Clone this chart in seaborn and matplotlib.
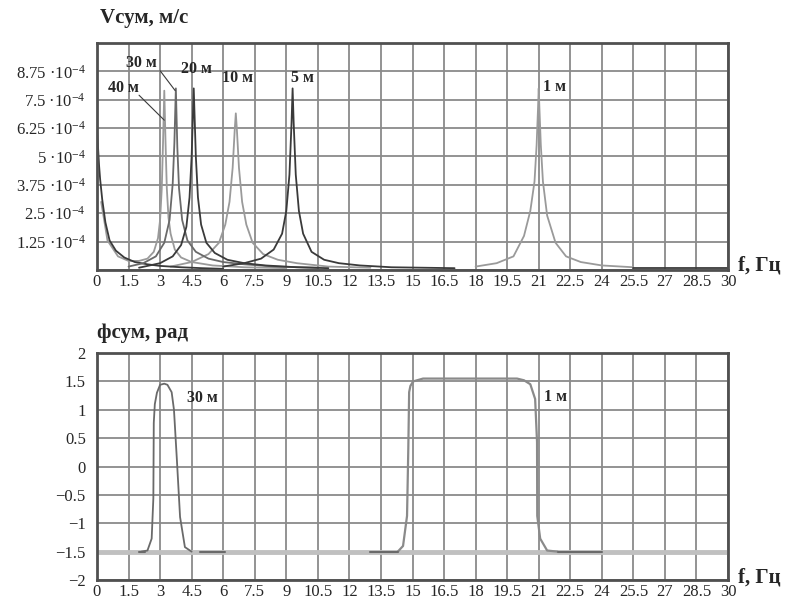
import numpy as np
import pandas as pd
import matplotlib
matplotlib.use('Agg')
from matplotlib import pyplot as plt
import seaborn as sns

# amplitude curves, V in units of 1e-4 m/s
f_low = [0, 0.05, 0.1, 0.15, 0.25, 0.4, 0.6, 0.9, 1.3, 1.8, 2.4, 3.0, 4.0, 5.0, 6.0]
v_low = [6.2, 5.4, 4.6, 4.0, 3.1, 2.1, 1.3, 0.85, 0.55, 0.35, 0.25, 0.18, 0.12, 0.08, 0.05]

f_40 = [0.2, 0.5, 1.0, 1.5, 2.0, 2.4, 2.7, 2.9, 3.0, 3.08, 3.14, 3.2, 3.26, 3.32, 3.4, 3.5, 3.7, 4.0, 4.5, 5.5, 7.0, 9.0]
v_40 = [3.0, 1.3, 0.6, 0.4, 0.4, 0.5, 0.8, 1.4, 2.2, 3.6, 5.6, 7.9, 5.6, 3.6, 2.3, 1.6, 0.9, 0.55, 0.35, 0.2, 0.12, 0.08]

f_30 = [1.5, 2.2, 2.8, 3.2, 3.45, 3.6, 3.68, 3.75, 3.82, 3.9, 4.05, 4.3, 4.7, 5.3, 6.0, 7.0, 8.5, 10.5]
v_30 = [0.15, 0.3, 0.6, 1.2, 2.2, 3.8, 5.6, 8.0, 5.4, 3.6, 2.2, 1.3, 0.8, 0.5, 0.35, 0.25, 0.15, 0.1]

f_20 = [2.0, 3.0, 3.6, 4.0, 4.25, 4.4, 4.5, 4.6, 4.7, 4.8, 4.95, 5.2, 5.6, 6.2, 7.0, 8.0, 9.5, 11.0]
v_20 = [0.1, 0.3, 0.6, 1.1, 1.9, 3.2, 5.0, 8.0, 5.0, 3.2, 2.0, 1.2, 0.75, 0.45, 0.3, 0.2, 0.12, 0.08]

f_10 = [3.5, 4.5, 5.3, 5.8, 6.1, 6.3, 6.45, 6.55, 6.6, 6.65, 6.75, 6.9, 7.1, 7.4, 7.9, 8.6, 9.5, 11.0, 13.0]
v_10 = [0.15, 0.35, 0.7, 1.2, 2.0, 3.0, 4.5, 6.2, 6.9, 6.2, 4.5, 3.0, 2.0, 1.2, 0.7, 0.45, 0.3, 0.15, 0.1]

f_5 = [6.0, 7.0, 7.8, 8.4, 8.8, 9.0, 9.15, 9.25, 9.3, 9.35, 9.45, 9.6, 9.8, 10.2, 10.8, 11.5, 12.5, 14.0, 17.0]
v_5 = [0.15, 0.3, 0.5, 0.9, 1.6, 2.6, 4.2, 6.5, 8.0, 6.5, 4.2, 2.6, 1.6, 0.8, 0.45, 0.3, 0.2, 0.12, 0.08]

f_1 = [18.0, 19.0, 19.8, 20.3, 20.6, 20.8, 20.9, 20.97, 21.0, 21.03, 21.1, 21.2, 21.4, 21.8, 22.3, 23.0, 24.0, 25.5]
v_1 = [0.15, 0.3, 0.6, 1.5, 2.6, 3.9, 5.5, 7.2, 8.0, 7.2, 5.5, 3.9, 2.4, 1.2, 0.6, 0.35, 0.2, 0.12]

f_tail = [25.5, 30.0]
v_tail = [0.08, 0.08]

# phase curves, rad
f_ph30 = [2.1, 2.4, 2.6, 2.68, 2.7, 2.75, 2.85, 3.0, 3.2, 3.35, 3.55, 3.66, 3.8, 3.95, 4.18, 4.5]
p_ph30 = [-1.5, -1.48, -1.27, -0.56, 0.77, 1.1, 1.3, 1.44, 1.46, 1.44, 1.31, 1.0, 0.11, -0.89, -1.42, -1.5]

f_ph1 = [14.3, 14.55, 14.74, 14.8, 14.84, 14.9, 15.03, 15.5, 16.5, 18.0, 19.5, 19.97, 20.3, 20.6, 20.83, 20.92, 20.93, 21.07, 21.4, 21.9]
p_ph1 = [-1.5, -1.4, -0.87, 0.31, 1.31, 1.42, 1.5, 1.55, 1.55, 1.55, 1.55, 1.55, 1.52, 1.45, 1.19, 0.43, -0.87, -1.27, -1.48, -1.5]

f_base = [0.0, 30.0]
p_base = [-1.5, -1.5]
dark_segments = [(2.0, 2.3), (4.9, 6.1), (13.0, 14.3), (21.9, 24.0)]

x_ticks = [0, 1.5, 3, 4.5, 6, 7.5, 9, 10.5, 12, 13.5, 15, 16.5, 18, 19.5, 21, 22.5, 24, 25.5, 27, 28.5, 30]
x_labels = ['0', '1.5', '3', '4.5', '6', '7.5', '9', '10.5', '12', '13.5', '15', '16.5', '18',
            '19.5', '21', '22.5', '24', '25.5', '27', '28.5', '30']
v_ticks = [0, 1.25, 2.5, 3.75, 5, 6.25, 7.5, 8.75, 10]
v_labels = ['', '1.25 ·10$^{-4}$', '2.5 ·10$^{-4}$', '3.75 ·10$^{-4}$', '5 ·10$^{-4}$',
            '6.25 ·10$^{-4}$', '7.5 ·10$^{-4}$', '8.75 ·10$^{-4}$', '']
p_ticks = [-2, -1.5, -1, -0.5, 0, 0.5, 1, 1.5, 2]
p_labels = ['−2', '−1.5', '−1', '−0.5', '0', '0.5', '1', '1.5', '2']

sns.set_style('white')
plt.rcParams['font.family'] = ['Liberation Serif', 'DejaVu Serif']
plt.rcParams['mathtext.fontset'] = 'custom'
plt.rcParams['mathtext.rm'] = 'Liberation Serif'
plt.rcParams['mathtext.it'] = 'Liberation Serif:italic'
plt.rcParams['mathtext.bf'] = 'Liberation Serif:bold'

light = '#9a9a9a'
dark = '#3a3a3a'
mid = '#6a6a6a'

fig = plt.figure(figsize=(7.91, 6.04), dpi=100)
ax1 = fig.add_axes([0.1226, 0.553, 0.7978, 0.3758])
ax2 = fig.add_axes([0.1226, 0.0397, 0.7978, 0.3758])

def style_axes(ax, yt, yl):
    ax.set_xlim(0, 30)
    ax.set_xticks(x_ticks)
    ax.set_xticklabels(x_labels, fontsize=12)
    ax.set_yticks(yt)
    ax.set_yticklabels(yl, fontsize=12)
    ax.set_ylim(yt[0], yt[-1])
    ax.grid(True, color='#8a8a8a', lw=1.3)
    ax.tick_params(length=0, pad=3)
    ax.tick_params(axis='y', pad=8)
    for s in ax.spines.values():
        s.set_color('#505050')
        s.set_linewidth(2)
    ax.set_xlabel('')
    ax.set_ylabel('')

# top: amplitude
series = [(f_40, v_40, light), (f_10, v_10, light), (f_1, v_1, light),
          (f_low, v_low, dark), (f_30, v_30, mid), (f_20, v_20, dark),
          (f_5, v_5, dark), (f_tail, v_tail, dark)]
for fx, vy, c in series:
    sns.lineplot(x=fx, y=vy, ax=ax1, color=c, lw=1.3)
style_axes(ax1, v_ticks, v_labels)

lab = dict(fontsize=11.5, fontweight='bold', ha='center', va='center')
ax1.text(1.24, 8.0, '40 м', **lab)
ax1.text(2.1, 9.1, '30 м', **lab)
ax1.text(4.75, 8.86, '20 м', **lab)
ax1.text(6.7, 8.45, '10 м', **lab)
ax1.text(9.75, 8.45, '5 м', **lab)
ax1.text(21.75, 8.07, '1 м', **lab)
ax1.plot([2.0, 3.2], [7.7, 6.6], color=dark, lw=0.8)
ax1.plot([3.0, 3.72], [8.78, 7.9], color=dark, lw=0.8)

# bottom: phase
sns.lineplot(x=f_base, y=p_base, ax=ax2, color='#c0c0c0', lw=3.5)
sns.lineplot(x=f_ph30, y=p_ph30, ax=ax2, color=mid, lw=1.3)
sns.lineplot(x=f_ph1, y=p_ph1, ax=ax2, color='#8a8a8a', lw=1.6)
for a, b in dark_segments:
    ax2.plot([a, b], [-1.5, -1.5], color=mid, lw=1.5)
style_axes(ax2, p_ticks, p_labels)
ax2.text(5.0, 1.21, '30 м', **lab)
ax2.text(21.8, 1.22, '1 м', **lab)

# axis titles
tl = dict(fontsize=15, fontweight='bold')
fig.text(100 / 791, 1 - 18 / 604, 'Vсум, м/с', va='center', ha='left', **tl)
fig.text(97 / 791, 1 - 333 / 604, 'фсум, рад', va='center', ha='left', **tl)
fig.text(738 / 791, 1 - 266 / 604, 'f, Гц', va='center', ha='left', **tl)
fig.text(738 / 791, 1 - 578 / 604, 'f, Гц', va='center', ha='left', **tl)

fig.savefig('out.png', dpi=100)
